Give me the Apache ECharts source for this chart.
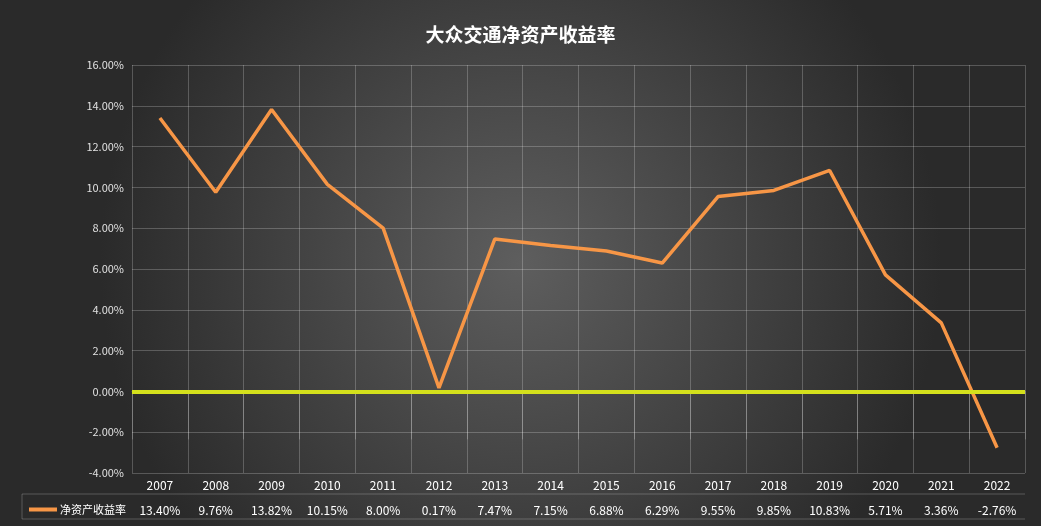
<!DOCTYPE html>
<html lang="zh">
<head>
<meta charset="UTF-8">
<title>大众交通净资产收益率</title>
<script src="https://cdn.jsdelivr.net/npm/echarts@6/dist/echarts.min.js"></script>
<style>
  html, body { margin: 0; padding: 0; }
  #chart { width: 1041px; height: 526px; }
</style>
</head>
<body>
<div id="chart"></div>
<script>
// 数据
const years = ['2007','2008','2009','2010','2011','2012','2013','2014','2015','2016','2017','2018','2019','2020','2021','2022'];
const roe = [13.40, 9.76, 13.82, 10.15, 8.00, 0.17, 7.47, 7.15, 6.88, 6.29, 9.55, 9.85, 10.83, 5.71, 3.36, -2.76];
const yTicks = { min: -4, max: 16, step: 2 };

const chart = echarts.init(document.getElementById('chart'));
const gridColor = 'rgba(255,255,255,0.22)';
const font = '"Microsoft YaHei","Noto Sans CJK SC",sans-serif';

chart.setOption({
  backgroundColor: {
    type: 'radial', x: 0.5, y: 0.5, r: 0.8,
    colorStops: [{ offset: 0, color: '#5e5e5e' }, { offset: 1, color: '#2a2a2a' }]
  },
  textStyle: { fontFamily: font },
  title: {
    text: '大众交通净资产收益率', left: 'center', top: 20,
    textStyle: { color: '#fff', fontSize: 19, fontWeight: 'bold', fontFamily: font }
  },
  legend: {
    left: 24, top: 499, itemWidth: 28, itemHeight: 4, itemGap: 2,
    icon: 'rect',
    textStyle: { color: '#fff', fontSize: 11, padding: [0, 0, 0, -2] },
    data: ['净资产收益率']
  },
  grid: { left: 132, right: 16, top: 65, bottom: 53 },
  xAxis: [{
    type: 'category', data: years, boundaryGap: true, position: 'bottom',
    axisLine: { lineStyle: { color: gridColor } },
    axisTick: { show: true, length: 48, interval: 0, lineStyle: { color: gridColor } },
    axisLabel: { color: '#fff', fontSize: 12, margin: 6, interval: 0 },
    splitLine: { show: true, interval: 0, lineStyle: { color: gridColor } }
  }, {
    type: 'category', data: roe.map(v => v.toFixed(2) + '%'), position: 'bottom', offset: 25,
    axisLine: { show: false }, axisTick: { show: false },
    axisLabel: { color: '#fff', fontSize: 12, margin: 6, interval: 0 }
  }],
  yAxis: {
    type: 'value', min: yTicks.min, max: yTicks.max, interval: yTicks.step,
    axisLine: { show: false }, axisTick: { show: false },
    axisLabel: { color: '#e0e0e0', fontSize: 11, formatter: v => v.toFixed(2) + '%' },
    splitLine: { lineStyle: { color: gridColor } }
  },
  graphic: [
    { type: 'line', shape: { x1: 22, y1: 494, x2: 1025, y2: 494 }, style: { stroke: gridColor } },
    { type: 'line', shape: { x1: 22, y1: 519, x2: 1025, y2: 519 }, style: { stroke: gridColor } },
    { type: 'line', shape: { x1: 22, y1: 494, x2: 22, y2: 519 }, style: { stroke: gridColor } }
  ],
  series: [{
    name: '净资产收益率', type: 'line', data: roe, symbol: 'none',
    lineStyle: { color: '#f79646', width: 3.5 }, itemStyle: { color: '#f79646' },
    markLine: {
      silent: true, symbol: 'none', label: { show: false },
      lineStyle: { color: '#d4e01c', width: 4, type: 'solid' },
      data: [{ yAxis: 0 }]
    }
  }]
});
</script>
</body>
</html>
